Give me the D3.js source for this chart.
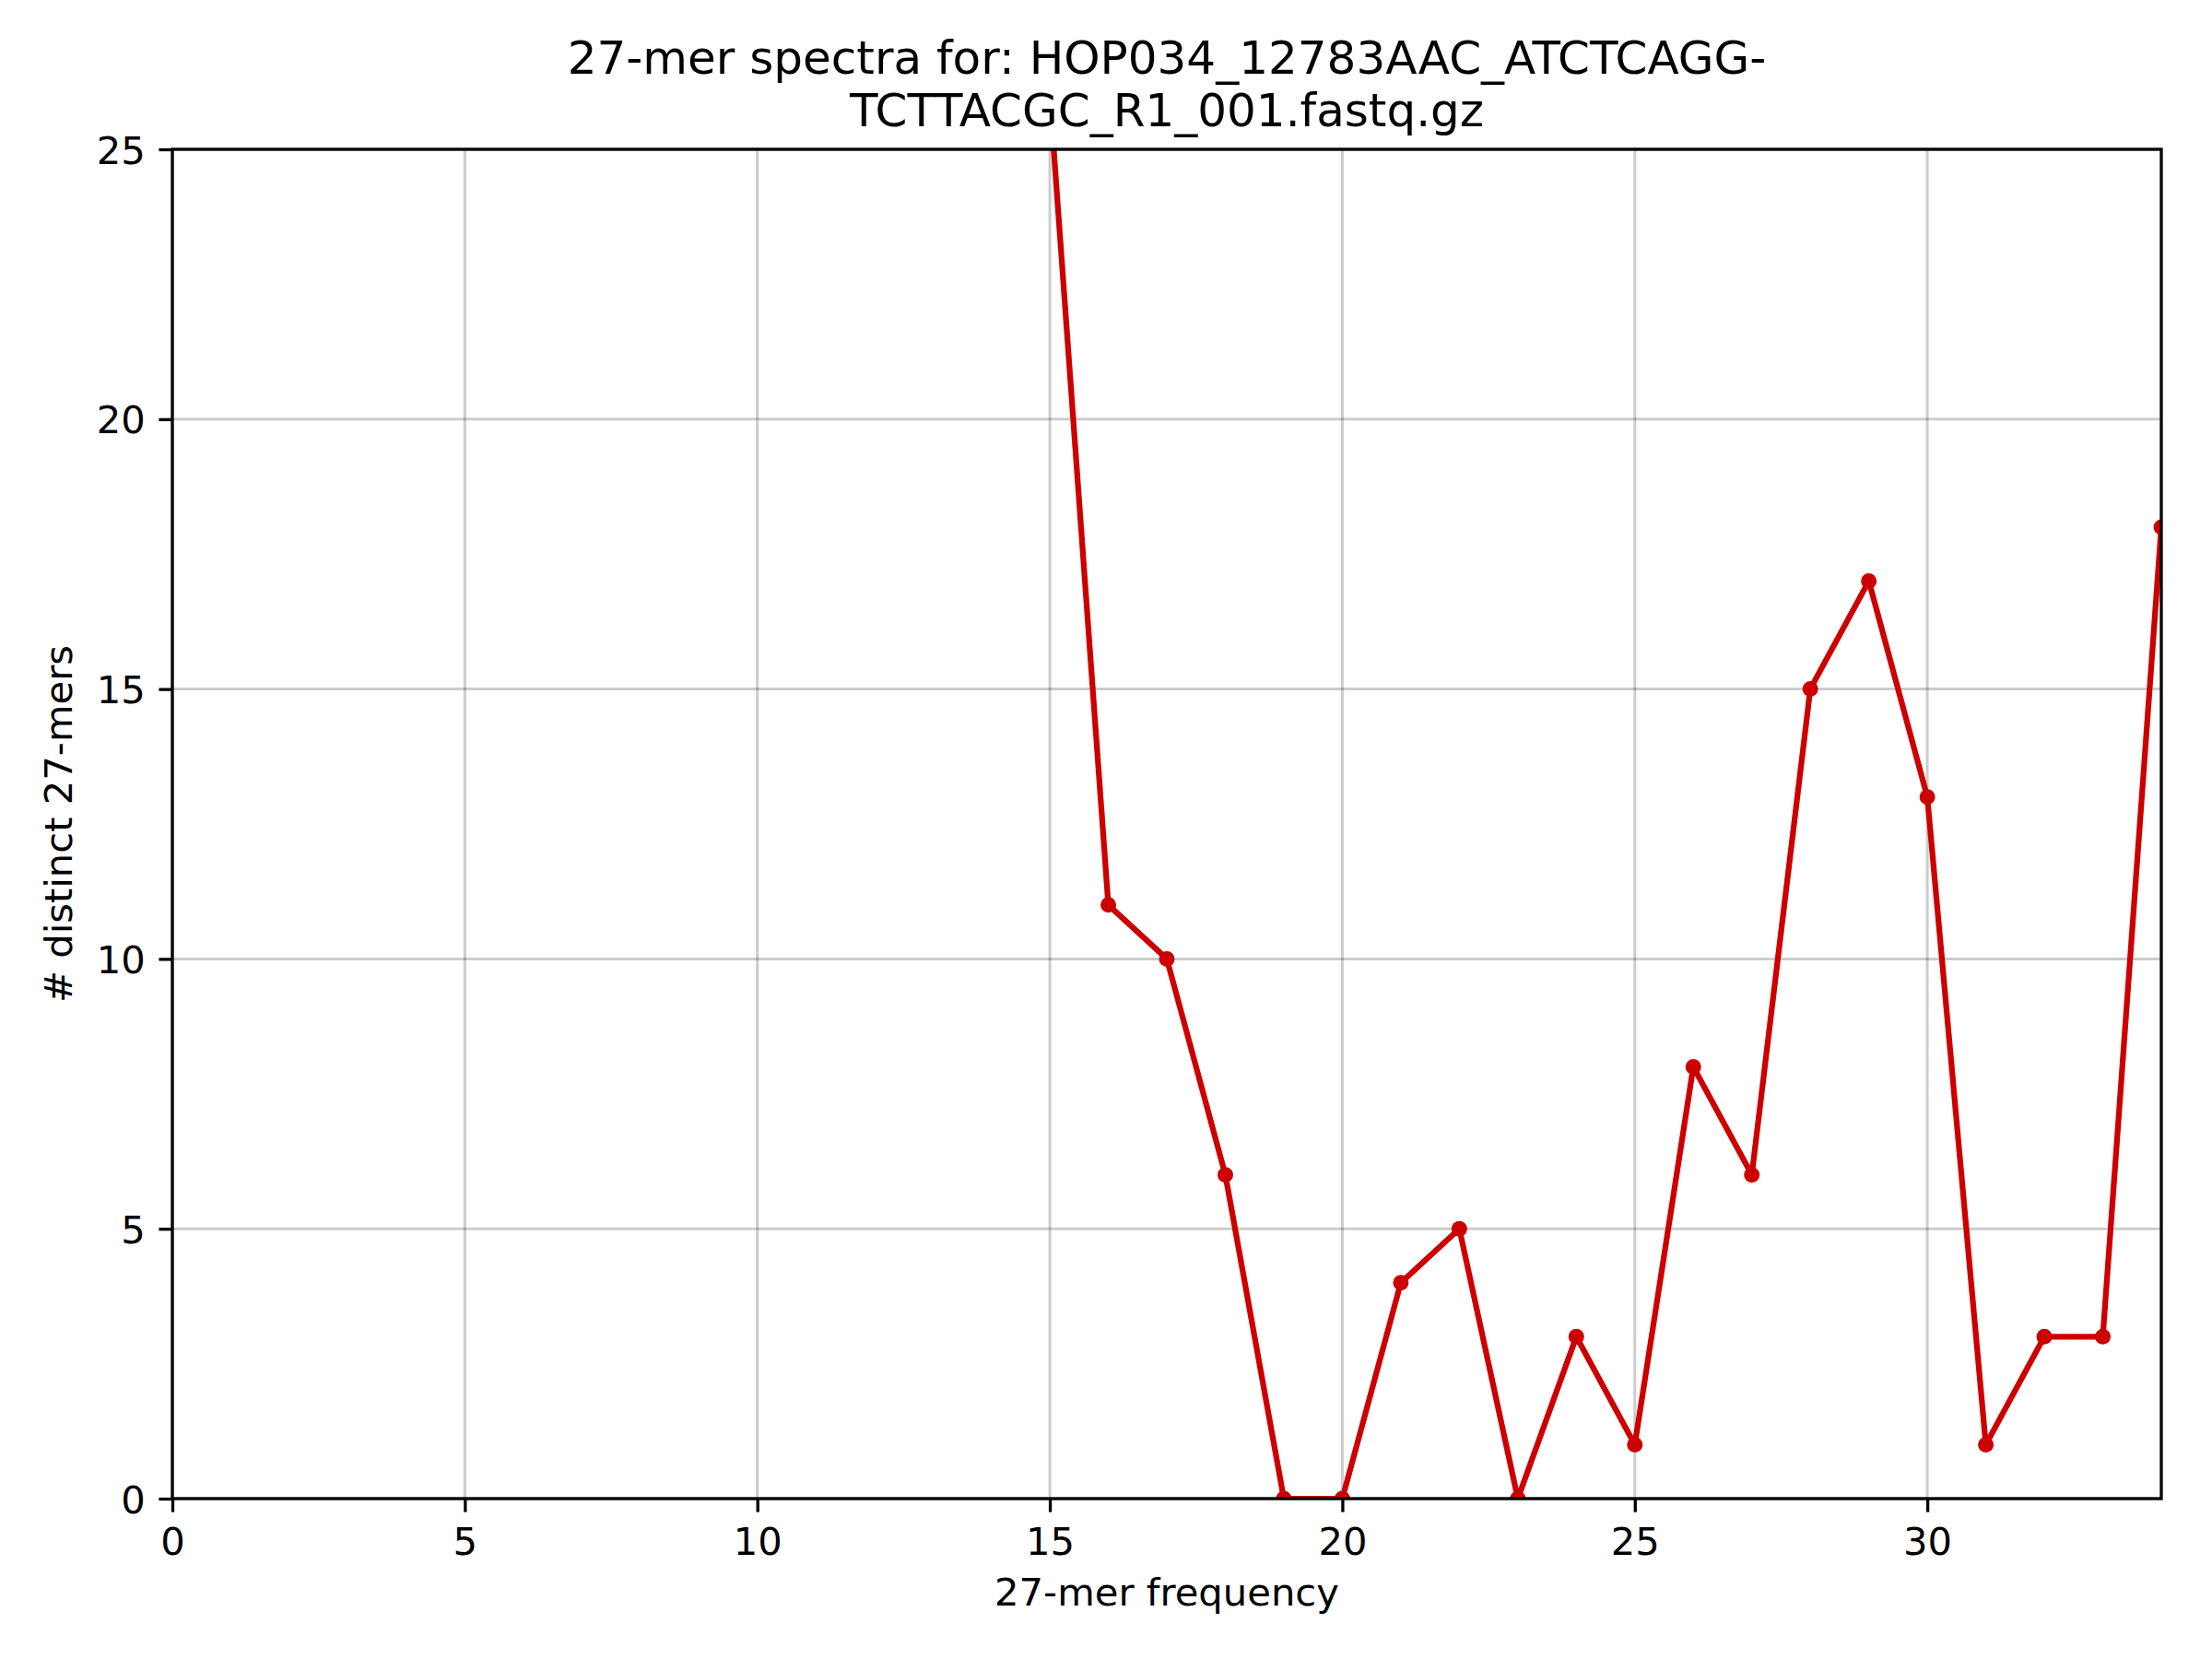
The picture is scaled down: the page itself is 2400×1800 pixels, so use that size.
<!DOCTYPE html>
<html>
<head>
<meta charset="utf-8">
<script src="https://cdnjs.cloudflare.com/ajax/libs/d3/7.8.5/d3.min.js"></script>
<style>
  body { margin: 0; background: #fff; }
  text { font-family: "DejaVu Sans", sans-serif; fill: #000; }
</style>
</head>
<body>
<script>
// k-mer frequency (x) and number of distinct k-mers (y)
var freqs  = [15, 16, 17, 18, 19, 20, 21, 22, 23, 24, 25, 26, 27, 28, 29, 30, 31, 32, 33, 34];
var counts = [26, 11, 10, 6, 0, 0, 4, 5, 0, 3, 1, 8, 6, 15, 17, 13, 1, 3, 3, 18];

var xTicks = [0, 5, 10, 15, 20, 25, 30];
var yTicks = [0, 5, 10, 15, 20, 25];

var titleLines = ["27-mer spectra for: HOP034_12783AAC_ATCTCAGG-",
                  "TCTTACGC_R1_001.fastq.gz"];
var xLabel = "27-mer frequency";
var yLabel = "# distinct 27-mers";

var W = 2400, H = 1800;
var margin = {top: 162, right: 55, bottom: 174, left: 187},
    width = W - margin.left - margin.right,
    height = H - margin.top - margin.bottom;

var red = "#cc0000";

var data = freqs.map(function(f, i) { return {x: f, y: counts[i]}; });

var svg = d3.select("body").append("svg")
    .attr("width", W)
    .attr("height", H);

svg.append("rect").attr("width", W).attr("height", H).attr("fill", "#fff");

var g = svg.append("g")
    .attr("transform", "translate(" + margin.left + "," + margin.top + ")");

var x = d3.scaleLinear().domain([0, 34]).range([0, width]);
var y = d3.scaleLinear().domain([0, 25]).range([height, 0]);

g.append("clipPath").attr("id", "clip")
  .append("rect").attr("width", width).attr("height", height);

// grid (semi-transparent, so crossings come out darker)
g.append("g").selectAll("line").data(xTicks).enter().append("line")
    .attr("x1", function(d) { return x(d); }).attr("x2", function(d) { return x(d); })
    .attr("y1", 0).attr("y2", height)
    .attr("stroke", "#000").attr("stroke-opacity", 0.2).attr("stroke-width", 3);

g.append("g").selectAll("line").data(yTicks).enter().append("line")
    .attr("y1", function(d) { return y(d); }).attr("y2", function(d) { return y(d); })
    .attr("x1", 0).attr("x2", width)
    .attr("stroke", "#000").attr("stroke-opacity", 0.2).attr("stroke-width", 3);

// line + dots
var line = d3.line()
    .x(function(d) { return x(d.x); })
    .y(function(d) { return y(d.y); });

var plot = g.append("g").attr("clip-path", "url(#clip)");

plot.append("path")
    .datum(data)
    .attr("d", line)
    .attr("fill", "none")
    .attr("stroke", red)
    .attr("stroke-width", 6.25)
    .attr("stroke-linejoin", "round");

plot.selectAll("circle").data(data).enter().append("circle")
    .attr("cx", function(d) { return x(d.x); })
    .attr("cy", function(d) { return y(d.y); })
    .attr("r", 8.5)
    .attr("fill", red);

// axes
var xAxis = g.append("g")
    .attr("transform", "translate(0," + height + ")")
    .call(d3.axisBottom(x).tickValues(xTicks).tickSize(14.6).tickPadding(14.6).tickFormat(d3.format("d")));

var yAxis = g.append("g")
    .call(d3.axisLeft(y).tickValues(yTicks).tickSize(14.6).tickPadding(14.6).tickFormat(d3.format("d")));

[xAxis, yAxis].forEach(function(a) {
  a.select(".domain").remove();
  a.selectAll(".tick line").attr("stroke", "#000").attr("stroke-width", 3.3);
  a.selectAll(".tick text").attr("font-size", "41.7px").attr("font-family", "DejaVu Sans");
});
xAxis.selectAll(".tick text").attr("dy", "0.76em");
yAxis.selectAll(".tick text").attr("dy", "0.36em");

// spines
g.append("rect")
    .attr("width", width).attr("height", height)
    .attr("fill", "none")
    .attr("stroke", "#000")
    .attr("stroke-width", 3.3);

// labels
svg.append("text")
    .attr("x", margin.left + width / 2)
    .attr("y", 1742)
    .attr("text-anchor", "middle")
    .attr("font-size", "41.7px")
    .text(xLabel);

svg.append("text")
    .attr("transform", "translate(78," + (margin.top + height / 2) + ") rotate(-90)")
    .attr("text-anchor", "middle")
    .attr("font-size", "41.7px")
    .text(yLabel);

svg.append("g").selectAll("text").data(titleLines).enter().append("text")
    .attr("x", margin.left + width / 2)
    .attr("y", function(d, i) { return 80 + i * 57; })
    .attr("text-anchor", "middle")
    .attr("font-size", "50px")
    .text(function(d) { return d; });
</script>
</body>
</html>
